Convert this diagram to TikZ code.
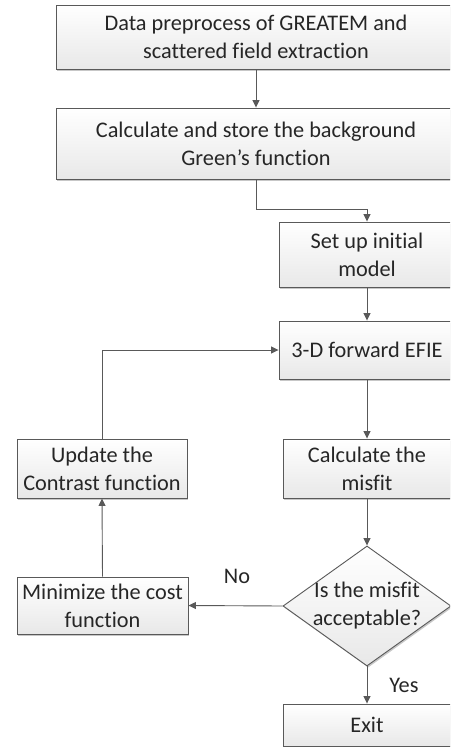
\documentclass[tikz,border=0pt]{standalone}
\usepackage{fontspec}
\setmainfont{Carlito}[Ligatures=NoCommon]
\usetikzlibrary{shapes.geometric,arrows.meta,shadows,positioning}
\definecolor{linec}{HTML}{595959}
\definecolor{textc}{HTML}{262626}
\begin{document}
\begin{tikzpicture}[x=1pt,y=-1pt,
  every node/.style={font=\fontsize{22.3}{28}\selectfont, text=textc},
  proc/.style={draw=linec, line width=0.9pt, top color=white, bottom color=black!9,
    drop shadow={shadow xshift=1.2pt, shadow yshift=-1.6pt, fill=black!40, opacity=0.55},
    align=center, inner sep=0pt},
  conn/.style={draw=linec, line width=0.9pt, -{Triangle[length=7.5pt,width=7pt]}},
  lab/.style={font=\fontsize{22.3}{28}\selectfont}]
\useasboundingbox (0,0) rectangle (450,747);
\clip (0,0) rectangle (450,747);
\node[proc, minimum width=400pt, minimum height=64pt] (b1) at (256,37)
  {Data preprocess of GREATEM and\\scattered field extraction};
\node[proc, minimum width=400pt, minimum height=71pt] (b2) at (256,143.5)
  {Calculate and store the background\\Green’s function};
\node[proc, minimum width=176pt, minimum height=65pt] (b3) at (367,254.5)
  {Set up initial\\model};
\node[proc, minimum width=176pt, minimum height=58pt] (b4) at (367,350)
  {3-D forward EFIE};
\node[proc, minimum width=168pt, minimum height=59pt] (b5) at (367,468.5)
  {Calculate the\\misfit};
\node[proc, minimum width=170pt, minimum height=59pt] (up) at (102,468.5)
  {Update the\\Contrast function};
\node[proc, shape=diamond, minimum width=168pt, minimum height=120pt] (dia) at (367,606) {};
\node[align=center, inner sep=0pt] (diat) at (367,606) {Is the misfit\\acceptable?};
\node[proc, minimum width=171pt, minimum height=57pt] (mini) at (102.5,605.5)
  {Minimize the cost\\function};
\node[proc, minimum width=168pt, minimum height=42pt] (exit) at (367,725)
  {Exit};
\node[lab] (no) at (237,576) {No};
\node[lab] (yes) at (404,685) {Yes};
\draw[conn] (b1.south) -- (b2.north);
\draw[conn] (b2.south) -- ++(0,30) -| (b3.north);
\draw[conn] (b3.south) -- (b4.north);
\draw[conn] (b4.south) -- (b5.north);
\draw[conn] (b5.south) -- (dia.north);
\draw[conn] (dia.west) -- (mini.east);
\draw[conn] (mini.north) -- (up.south);
\draw[conn] (up.north) |- (b4.west);
\draw[conn] (dia.south) -- (exit.north);
\end{tikzpicture}
\end{document}
